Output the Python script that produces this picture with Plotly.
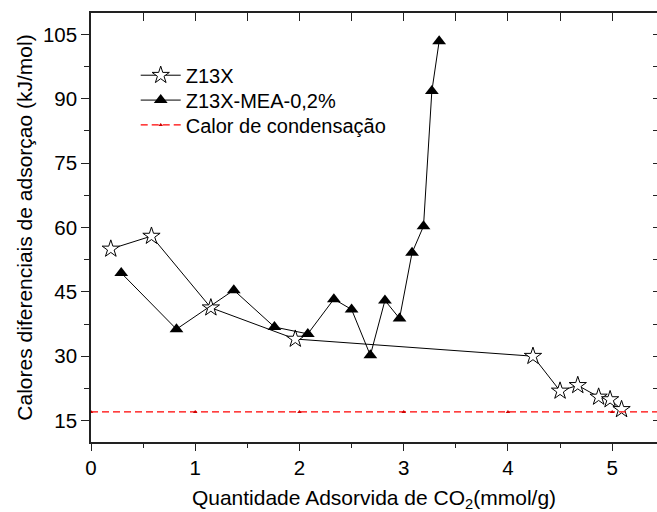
import plotly.graph_objects as go

# Z13X: differential heat of adsorption vs CO2 uptake
z13x_q = [0.19, 0.58, 1.15, 1.96, 4.24, 4.50, 4.67, 4.87, 4.98, 5.09]
z13x_h = [55.0, 58.0, 41.3, 34.0, 30.0, 21.9, 23.2, 20.5, 19.9, 17.6]

# Z13X-MEA-0,2%
mea_q = [0.29, 0.82, 1.37, 1.76, 2.08, 2.33, 2.50, 2.68, 2.82, 2.96, 3.08, 3.19, 3.27, 3.34]
mea_h = [49.4, 36.3, 45.4, 36.8, 35.2, 43.3, 40.9, 30.2, 43.0, 38.8, 54.1, 60.3, 91.8, 103.4]

# Heat of condensation reference line
cond_q = [0, 1, 2, 3, 4, 5, 6]
cond_h = [17, 17, 17, 17, 17, 17, 17]

x_ticks = [0, 1, 2, 3, 4, 5]
y_ticks = [15, 30, 45, 60, 75, 90, 105]

FONT = "Arial, Liberation Sans, sans-serif"
AX = "#222222"
FS = 20.5
FT = 21

fig = go.Figure()

fig.add_trace(go.Scatter(
    x=z13x_q, y=z13x_h, name="Z13X", mode="lines+markers", legend="legend",
    line=dict(color="black", width=1),
    marker=dict(symbol="star", size=13, color="white",
                line=dict(color="black", width=1)),
))
fig.add_trace(go.Scatter(
    x=mea_q, y=mea_h, name="Z13X-MEA-0,2%", mode="lines+markers",
    legend="legend2",
    line=dict(color="black", width=1),
    marker=dict(symbol="triangle-up", size=12, color="black",
                line=dict(color="black", width=0)),
))
fig.add_trace(go.Scatter(
    x=cond_q, y=cond_h, name="Calor de condensação", mode="lines+markers",
    legend="legend3",
    line=dict(color="#ff0000", width=1.2, dash="7px,4px"),
    marker=dict(symbol="triangle-up", size=4, color="#cc0000"),
))
# carriers for the top and right tick-only axes
fig.add_trace(go.Scatter(x=[None], y=[None], xaxis="x2", yaxis="y",
                         showlegend=False, hoverinfo="skip"))
fig.add_trace(go.Scatter(x=[None], y=[None], xaxis="x", yaxis="y2",
                         showlegend=False, hoverinfo="skip"))

x_range = [0, 5.43]
y_range = [10, 110]


def legend_row(ypos):
    return dict(
        x=0.079, y=ypos, xanchor="left", yanchor="middle",
        bgcolor="rgba(0,0,0,0)", borderwidth=0,
        font=dict(family=FONT, size=20, color="black"),
        itemwidth=40,
    )


fig.update_layout(
    width=657, height=512,
    margin=dict(l=91, r=0, t=13, b=70),
    paper_bgcolor="white", plot_bgcolor="white",
    font=dict(family=FONT, size=FS, color="black"),
    showlegend=True,
    legend=legend_row(0.855),
    legend2=legend_row(0.797),
    legend3=legend_row(0.739),
    xaxis=dict(
        range=x_range, tickvals=x_ticks, ticktext=[str(v) for v in x_ticks],
        showgrid=False, zeroline=False,
        showline=True, linecolor=AX, linewidth=1.5,
        ticks="outside", ticklen=7, tickwidth=1.3, tickcolor=AX,
        minor=dict(ticks="outside", dtick=0.5, tick0=0, ticklen=4,
                   tickwidth=1.3, tickcolor=AX, showgrid=False),
        tickfont=dict(size=FS),
        title=dict(text="Quantidade Adsorvida de CO<sub>2</sub>(mmol/g)",
                   font=dict(size=FT), standoff=13),
    ),
    xaxis2=dict(
        range=x_range, overlaying="x", side="top",
        showgrid=False, zeroline=False, showticklabels=False,
        showline=True, linecolor=AX, linewidth=1.5,
        ticks="inside", dtick=0.5, tick0=0, ticklen=8, tickwidth=1.3,
        tickcolor=AX,
    ),
    yaxis=dict(
        range=y_range, tickvals=y_ticks, ticktext=[str(v) for v in y_ticks],
        showgrid=False, zeroline=False,
        showline=True, linecolor=AX, linewidth=1.5,
        ticks="outside", ticklen=8, tickwidth=1.3, tickcolor=AX,
        minor=dict(ticks="outside", dtick=7.5, tick0=0, ticklen=5,
                   tickwidth=1.3, tickcolor=AX, showgrid=False),
        tickfont=dict(size=FS),
        title=dict(text="Calores diferenciais de adsorçao (kJ/mol)",
                   font=dict(size=FT), standoff=5),
    ),
    yaxis2=dict(
        range=y_range, overlaying="y", side="right",
        showgrid=False, zeroline=False, showticklabels=False,
        showline=False,
        ticks="inside", dtick=7.5, tick0=0, ticklen=4, tickwidth=1.3,
        tickcolor=AX,
    ),
)

fig.write_html("out.html")
